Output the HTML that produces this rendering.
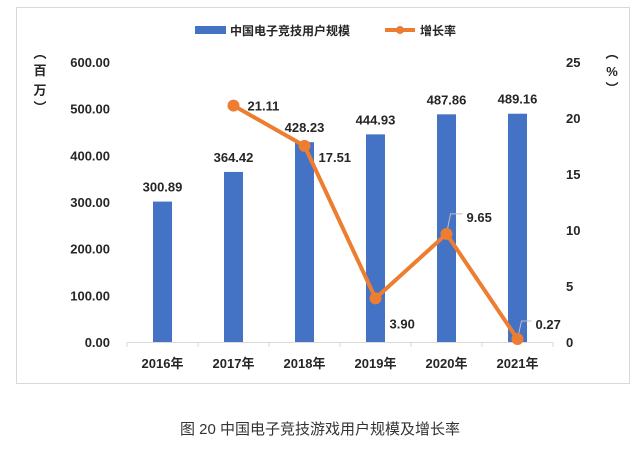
<!DOCTYPE html>
<html><head><meta charset="utf-8"><style>
body{margin:0;background:#fff;width:641px;height:451px;overflow:hidden;font-family:"Liberation Sans","Noto Sans CJK SC",sans-serif}
text{font-family:"Liberation Sans","Noto Sans CJK SC",sans-serif}
</style></head><body>
<svg id="c" width="641" height="451">
<rect x="16.5" y="7.5" width="613" height="376" fill="#fff" stroke="#d9d9d9"/>
<g id="g"></g>
<text x="320" y="434" text-anchor="middle" font-size="15" fill="#333">图 20 中国电子竞技游戏用户规模及增长率</text>
</svg>
<script>
const categories=["2016年","2017年","2018年","2019年","2020年","2021年"];
const users=[300.89,364.42,428.23,444.93,487.86,489.16];
const growth=[null,21.11,17.51,3.90,9.65,0.27];
const leftTicks=[0,100,200,300,400,500,600];
const rightTicks=[0,5,10,15,20,25];
const x0=127,x1=553,yB=342,yT=62;
const labelOff=[[0,0],[14,5],[14,16],[14,30],[20,-12],[18,-10]];
const band=(x1-x0)/categories.length;
const xc=i=>x0+band*(i+0.5);
const yL=v=>yB-(v/600)*(yB-yT);
const yR=v=>yB-(v/25)*(yB-yT);
const g=document.getElementById('g');
const NS="http://www.w3.org/2000/svg";
function mk(t,a,txt){const e=document.createElementNS(NS,t);for(const k in a)e.setAttribute(k,a[k]);if(txt!=null)e.textContent=txt;g.appendChild(e);return e;}
leftTicks.forEach(v=>{const e=mk('text',{x:110,y:yL(v)+5,'text-anchor':'end','font-size':13,'font-weight':'bold',fill:'#262626'},v.toFixed(2));

});
rightTicks.forEach(v=>{const e=mk('text',{x:566,y:yR(v)+5,'text-anchor':'start','font-size':13,'font-weight':'bold',fill:'#262626'},String(v));

});
let e=mk('text',{x:40,y:58,'font-size':13,'font-weight':'bold',fill:'#262626','text-anchor':'middle'},'');
e.innerHTML='<tspan x="40" dy="0">︵</tspan><tspan x="40" dy="17">百</tspan><tspan x="40" dy="20">万</tspan><tspan x="40" dy="17">︶</tspan>';


e=mk('text',{x:612,y:58,'font-size':13,'font-weight':'bold',fill:'#262626','text-anchor':'middle'},'');
e.innerHTML='<tspan x="612" dy="0">︵</tspan><tspan x="612" dy="18">%</tspan><tspan x="612" dy="17">︶</tspan>';


e=mk('line',{x1:x0,x2:x1,y1:yB+0.5,y2:yB+0.5,stroke:'#d9d9d9'});


for(let i=0;i<=categories.length;i++){e=mk('line',{x1:x0+band*i,x2:x0+band*i,y1:yB,y2:yB+5,stroke:'#d9d9d9'});

}
categories.forEach((c,i)=>{e=mk('text',{x:xc(i),y:368,'text-anchor':'middle','font-size':13,'font-weight':'bold',fill:'#262626'},c);

});
users.forEach((v,i)=>{e=mk('rect',{x:xc(i)-9.5,y:yL(v),width:19,height:yB-yL(v),fill:'#4472C4'});


e=mk('text',{x:xc(i),y:yL(v)-10,'text-anchor':'middle','font-size':13,'font-weight':'bold',fill:'#262626'},v.toFixed(2));

});
const pts=[];growth.forEach((v,i)=>{if(v!=null)pts.push([xc(i),yR(v)]);});
e=mk('polyline',{points:pts.map(p=>p.join(',')).join(' '),fill:'none',stroke:'#ED7D31','stroke-width':4,'stroke-linejoin':'round'});


growth.forEach((v,i)=>{if(v==null)return;
const [dx,dy]=labelOff[i];
if(i>=4){e=mk('polyline',{points:`${xc(i)},${yR(v)} ${xc(i)+4},${yR(v)+dy-8} ${xc(i)+dx-4},${yR(v)+dy-8}`,fill:'none',stroke:'#bfbfbf','stroke-width':1});

}
e=mk('circle',{cx:xc(i),cy:yR(v),r:6,fill:'#ED7D31'});


e=mk('text',{x:xc(i)+dx,y:yR(v)+dy,'font-size':13,'font-weight':'bold',fill:'#262626'},v.toFixed(2));

});
e=mk('rect',{x:195,y:26,width:31,height:8,fill:'#4472C4'});


e=mk('text',{x:230,y:35,'font-size':12,'font-weight':'bold',fill:'#262626'},'中国电子竞技用户规模');


e=mk('line',{x1:385,x2:415,y1:30,y2:30,stroke:'#ED7D31','stroke-width':4});


e=mk('circle',{cx:400,cy:30,r:4,fill:'#ED7D31'});


e=mk('text',{x:420,y:35,'font-size':12,'font-weight':'bold',fill:'#262626'},'增长率');


</script>
</body></html>
